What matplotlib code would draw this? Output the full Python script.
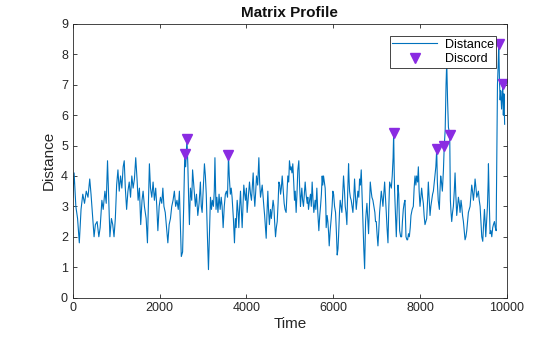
import matplotlib
matplotlib.use("Agg")
import matplotlib.pyplot as plt

plt.rcParams['font.family'] = ['Liberation Sans', 'DejaVu Sans']

time = [0, 30, 70, 110, 150, 190, 230, 270, 310, 350, 390, 420, 450, 490, 520, 560, 600, 630, 670, 700,
        740, 770, 800, 830, 855, 890, 920, 950, 980, 1010, 1040, 1070, 1100, 1130, 1160, 1185, 1210, 1240,
        1270, 1300, 1330, 1360, 1390, 1420, 1450, 1480, 1505, 1535, 1565, 1595, 1620, 1650, 1690, 1720,
        1745, 1765, 1790, 1820, 1850, 1880, 1910, 1935, 1960, 1990, 2020, 2050, 2075, 2100, 2130, 2160,
        2190, 2220, 2250, 2280, 2310, 2340, 2370, 2400, 2430, 2456, 2475, 2500, 2530, 2555, 2580, 2600,
        2630, 2650, 2670, 2687, 2710, 2740, 2760, 2787, 2810, 2825, 2850, 2880, 2910, 2940, 2960, 2980,
        3000, 3033, 3055, 3075, 3100, 3126, 3150, 3172, 3195, 3215, 3240, 3260, 3275, 3300, 3320, 3345,
        3370, 3395, 3420, 3440, 3464, 3490, 3515, 3540, 3565, 3587, 3605, 3630, 3650, 3670, 3700, 3725,
        3745, 3764, 3787, 3810, 3825, 3845, 3864, 3885, 3902, 3920, 3940, 3960, 3979, 4000, 4017, 4045,
        4071, 4095, 4117, 4135, 4156, 4175, 4194, 4215, 4233, 4260, 4287, 4305, 4325, 4345, 4364, 4385,
        4402, 4420, 4440, 4456, 4475, 4494, 4510, 4530, 4555, 4575, 4594, 4615, 4633, 4650, 4671, 4690,
        4710, 4730, 4748, 4770, 4787, 4805, 4825, 4850, 4870, 4890, 4915, 4935, 4954, 4975, 4992, 5015,
        5031, 5050, 5069, 5090, 5108, 5125, 5146, 5165, 5185, 5208, 5225, 5246, 5260, 5277, 5295, 5315,
        5335, 5354, 5375, 5400, 5415, 5431, 5455, 5477, 5495, 5515, 5535, 5554, 5570, 5584, 5600, 5623,
        5645, 5669, 5690, 5708, 5728, 5746, 5760, 5777, 5795, 5815, 5830, 5838, 5860, 5877, 5895, 5908,
        5930, 5954, 5975, 5992, 6010, 6031, 6054, 6075, 6092, 6110, 6123, 6145, 6161, 6180, 6200, 6220,
        6238, 6260, 6277, 6295, 6315, 6335, 6354, 6365, 6377, 6395, 6415, 6435, 6454, 6475, 6492, 6510,
        6531, 6550, 6569, 6590, 6608, 6625, 6646, 6665, 6685, 6705, 6724, 6735, 6746, 6760, 6777, 6795,
        6815, 6835, 6854, 6875, 6892, 6915, 6938, 6960, 6975, 6992, 7010, 7031, 7050, 7069, 7090, 7108,
        7125, 7146, 7165, 7185, 7205, 7223, 7240, 7262, 7280, 7300, 7320, 7339, 7360, 7380, 7393, 7405,
        7415, 7435, 7454, 7475, 7492, 7510, 7531, 7555, 7577, 7595, 7615, 7635, 7654, 7665, 7677, 7700,
        7715, 7735, 7754, 7775, 7792, 7820, 7846, 7865, 7885, 7905, 7923, 7945, 7962, 7980, 8000, 8020,
        8038, 8058, 8077, 8095, 8115, 8135, 8154, 8175, 8192, 8210, 8231, 8250, 8269, 8290, 8308, 8330,
        8346, 8365, 8385, 8400, 8420, 8446, 8460, 8477, 8495, 8515, 8540, 8558, 8580, 8600, 8616, 8635,
        8655, 8685, 8700, 8715, 8731, 8750, 8769, 8790, 8808, 8825, 8846, 8865, 8885, 8905, 8923, 8945,
        8962, 8980, 9000, 9020, 9038, 9058, 9077, 9095, 9115, 9135, 9154, 9175, 9192, 9210, 9231, 9250,
        9269, 9290, 9308, 9328, 9346, 9365, 9385, 9405, 9423, 9446, 9465, 9485, 9500, 9515, 9535, 9554,
        9570, 9577, 9595, 9615, 9635, 9654, 9675, 9692, 9715, 9735, 9754, 9770, 9785, 9800, 9815, 9830,
        9846, 9860, 9880, 9908, 9920, 9935, 9950]

distance = [3.3, 4.1, 3.0, 2.6, 1.8, 2.9, 3.4, 3.1, 3.5, 3.3, 3.9, 3.4, 2.8, 2.0, 2.4, 2.5, 2.0, 2.3, 3.2, 2.9,
            3.5, 3.1, 4.5, 3.1, 2.0, 2.6, 2.4, 2.0, 2.6, 3.7, 4.2, 3.5, 4.0, 3.6, 4.3, 4.5, 3.6, 2.9,
            3.5, 3.8, 3.3, 4.0, 3.6, 3.9, 4.6, 3.9, 3.2, 3.6, 2.4, 3.2, 3.5, 3.0, 2.6, 1.8,
            3.2, 4.4, 3.6, 3.3, 3.8, 3.2, 3.6, 3.0, 2.2, 3.0, 3.3, 3.1, 3.6, 3.0, 2.8, 2.3,
            1.8, 2.4, 2.6, 3.0, 3.2, 3.5, 3.0, 3.2, 2.9, 3.5, 2.6, 1.35, 1.5, 3.0, 4.73, 4.3,
            5.2, 4.4, 3.2, 2.4, 3.6, 3.2, 4.2, 3.7, 3.3, 3.0, 3.4, 2.7, 3.1, 3.8, 3.0, 2.8,
            3.4, 4.4, 4.0, 3.4, 2.1, 0.92, 2.2, 3.3, 2.9, 3.2, 3.0, 3.5, 4.6, 2.9, 3.3, 2.8,
            3.4, 2.9, 3.3, 3.0, 2.3, 3.0, 3.4, 3.5, 3.3, 4.7, 4.0, 3.4, 3.6, 3.3, 2.6, 1.8,
            2.6, 2.3, 3.2, 2.8, 2.3, 3.0, 3.5, 2.8, 2.3, 3.0, 3.7, 3.4, 3.2, 3.6, 2.8, 3.3,
            3.8, 3.4, 3.2, 3.6, 4.1, 3.4, 3.0, 3.5, 4.0, 3.7, 4.6, 3.8, 3.3, 3.5, 3.7, 3.3,
            3.0, 2.7, 2.3, 1.95, 2.8, 3.5, 2.9, 2.4, 2.9, 2.6, 2.9, 3.2, 3.0, 2.5, 2.0, 2.3,
            2.5, 3.1, 3.8, 3.7, 3.4, 3.6, 4.0, 3.5, 3.1, 2.9, 2.8, 3.4, 4.0, 3.8, 4.5, 4.2,
            4.3, 4.1, 4.4, 3.8, 3.2, 3.5, 2.8, 3.4, 4.2, 4.5, 3.7, 3.0, 3.3, 3.6, 3.2, 3.0,
            3.4, 3.8, 3.4, 3.1, 3.3, 2.9, 3.2, 3.4, 3.0, 3.8, 3.2, 2.8, 3.0, 3.2, 2.9, 3.6,
            2.8, 2.2, 2.7, 3.0, 3.4, 4.0, 3.7, 4.0, 3.8, 3.6, 3.0, 2.3, 2.7, 2.5, 2.1, 1.7,
            2.2, 2.6, 3.0, 3.5, 3.4, 3.0, 2.8, 2.1, 1.4, 1.6, 2.0, 2.8, 3.2, 3.0, 2.8, 3.4,
            4.0, 3.5, 3.0, 2.8, 2.4, 3.5, 4.4, 3.9, 3.5, 3.3, 3.2, 3.0, 2.8, 3.3, 3.9, 3.4,
            2.9, 3.2, 3.5, 3.3, 3.9, 3.7, 4.2, 3.4, 2.5, 1.6, 0.95, 1.8, 2.5, 2.8, 3.1, 2.6,
            2.1, 3.0, 3.8, 3.5, 3.3, 3.2, 3.0, 2.8, 2.5, 2.5, 2.1, 1.7, 2.2, 2.8, 3.2, 3.5,
            3.3, 3.0, 3.4, 3.8, 3.3, 2.8, 2.3, 1.8, 2.9, 3.8, 3.7, 3.6, 4.0, 4.6, 5.42, 4.2,
            3.5, 2.7, 2.0, 3.0, 3.7, 3.4, 2.2, 2.0, 2.0, 2.5, 2.9, 3.1, 3.2, 2.6, 2.0, 1.9,
            1.9, 2.1, 2.0, 2.3, 2.7, 2.9, 3.0, 3.6, 4.0, 3.7, 4.0, 3.8, 4.3, 3.5, 3.0, 3.3,
            3.6, 3.3, 3.1, 2.7, 2.4, 2.5, 2.6, 3.2, 3.8, 3.3, 2.7, 3.0, 3.2, 3.4, 3.5, 3.8,
            4.0, 4.3, 4.87, 3.8, 3.2, 2.9, 3.5, 4.0, 3.8, 3.5, 4.2, 4.97, 5.5, 7.0, 7.75, 6.5,
            5.6, 5.35, 3.2, 2.8, 2.5, 2.8, 3.0, 3.5, 4.1, 3.4, 2.7, 3.0, 3.3, 3.1, 2.8, 3.2,
            3.0, 2.7, 2.5, 2.2, 1.9, 2.0, 2.2, 2.5, 2.8, 2.9, 3.0, 3.4, 3.7, 3.5, 3.2, 3.5,
            3.9, 3.6, 3.3, 3.4, 3.5, 3.2, 3.0, 2.5, 2.0, 1.85, 2.4, 2.9, 2.5, 2.0, 2.5, 3.0,
            3.8, 4.4, 3.2, 2.1, 2.2, 2.0, 2.3, 2.4, 2.5, 2.3, 2.2, 4.5, 7.0, 7.6, 8.35, 7.2,
            6.5, 6.8, 6.2, 7.03, 6.0, 6.7, 5.7]

discord_time = [2580, 2630, 3587, 7393, 8385, 8558, 8685, 9815, 9908]
discord_distance = [4.73, 5.2, 4.7, 5.42, 4.87, 4.97, 5.35, 8.35, 7.03]

fig = plt.figure(figsize=(5.6, 3.37), dpi=100)
ax = fig.add_axes([0.13, 0.117, 0.775, 0.812])

ax.plot(time, distance, color='#0072BD', lw=0.8, label='Distance')
ax.plot(discord_time, discord_distance, linestyle='none', marker='v', markersize=7,
        color='#8A2BE2', markeredgecolor='#8A2BE2', label='Discord')

ax.set_xlim(0, 10000)
ax.set_ylim(0, 9)
ax.set_xticks([0, 2000, 4000, 6000, 8000, 10000])
ax.set_yticks(range(0, 10))
ax.tick_params(direction='in', top=True, right=True, length=3, width=0.6,
               labelsize=9, colors='#262626')
for s in ax.spines.values():
    s.set_linewidth(0.6)
    s.set_color('#262626')

ax.set_xlabel('Time', fontsize=11, color='#262626', labelpad=2)
ax.set_ylabel('Distance', fontsize=11, color='#262626', labelpad=4)
ax.set_title('Matrix Profile', fontsize=11, fontweight='bold', color='#111111', pad=5)

leg = fig.legend(loc='upper right', bbox_to_anchor=(496 / 560, 1 - 36 / 337),
                 borderaxespad=0, fontsize=9, fancybox=False, framealpha=1,
                 edgecolor='#262626', handlelength=3.6, borderpad=0.2,
                 labelspacing=0.2, handletextpad=0.6)
leg.get_frame().set_linewidth(0.6)

fig.savefig('out.png', dpi=100)
